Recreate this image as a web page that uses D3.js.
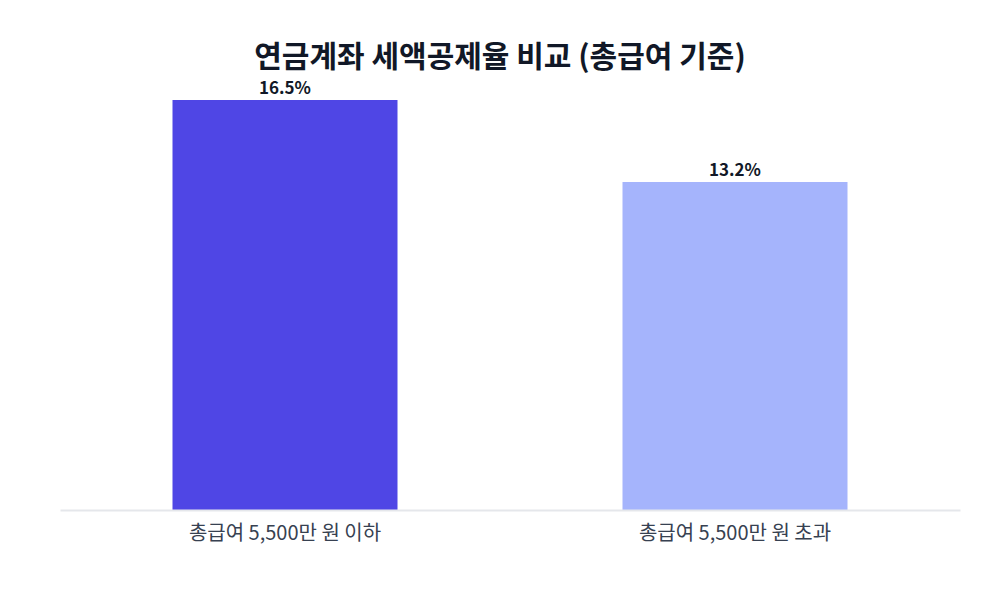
<!DOCTYPE html>
<html><head><meta charset="utf-8">
<script src="https://cdn.jsdelivr.net/npm/d3@7"></script>
<style>body{margin:0;background:#fff}</style>
</head><body>
<svg id="c" width="1000" height="600"></svg>
<script>
const categories = ["총급여 5,500만 원 이하", "총급여 5,500만 원 초과"];
const values = [16.5, 13.2];
const valueLabels = ["16.5%", "13.2%"];
const colors = ["#4f46e5", "#a5b4fc"];
const title = "연금계좌 세액공제율 비교 (총급여 기준)";

const svg = d3.select("#c");
const font = "'Noto Sans CJK KR','Noto Sans',sans-serif";
const x = d3.scaleBand().domain(categories).range([60, 960]).paddingInner(0.5).paddingOuter(0.25);
const y = d3.scaleLinear().domain([0, 16.5]).range([510, 100]);

svg.append("text").attr("x", 500).attr("y", 67).attr("text-anchor", "middle")
  .attr("font-family", font).attr("font-weight", "bold").attr("font-size", 30).attr("fill", "#111827").text(title);

svg.selectAll("rect.bar").data(values).enter().append("rect")
  .attr("x", (d, i) => x(categories[i])).attr("width", x.bandwidth())
  .attr("y", d => y(d)).attr("height", d => y(0) - y(d)).attr("fill", (d, i) => colors[i]);

svg.selectAll("text.v").data(values).enter().append("text")
  .attr("x", (d, i) => x(categories[i]) + x.bandwidth() / 2).attr("y", d => y(d) - 6)
  .attr("text-anchor", "middle").attr("font-family", font).attr("font-weight", "bold")
  .attr("font-size", 17).attr("fill", "#111827").text((d, i) => valueLabels[i]);

const ax = svg.append("g").attr("transform", "translate(0,510)")
  .call(d3.axisBottom(x).tickSize(0).tickPadding(16));
ax.select(".domain").attr("stroke", "#e5e7eb").attr("stroke-width", 2);
ax.selectAll("text").attr("font-family", font).attr("font-size", 20).attr("fill", "#374151");
</script>
</body></html>
